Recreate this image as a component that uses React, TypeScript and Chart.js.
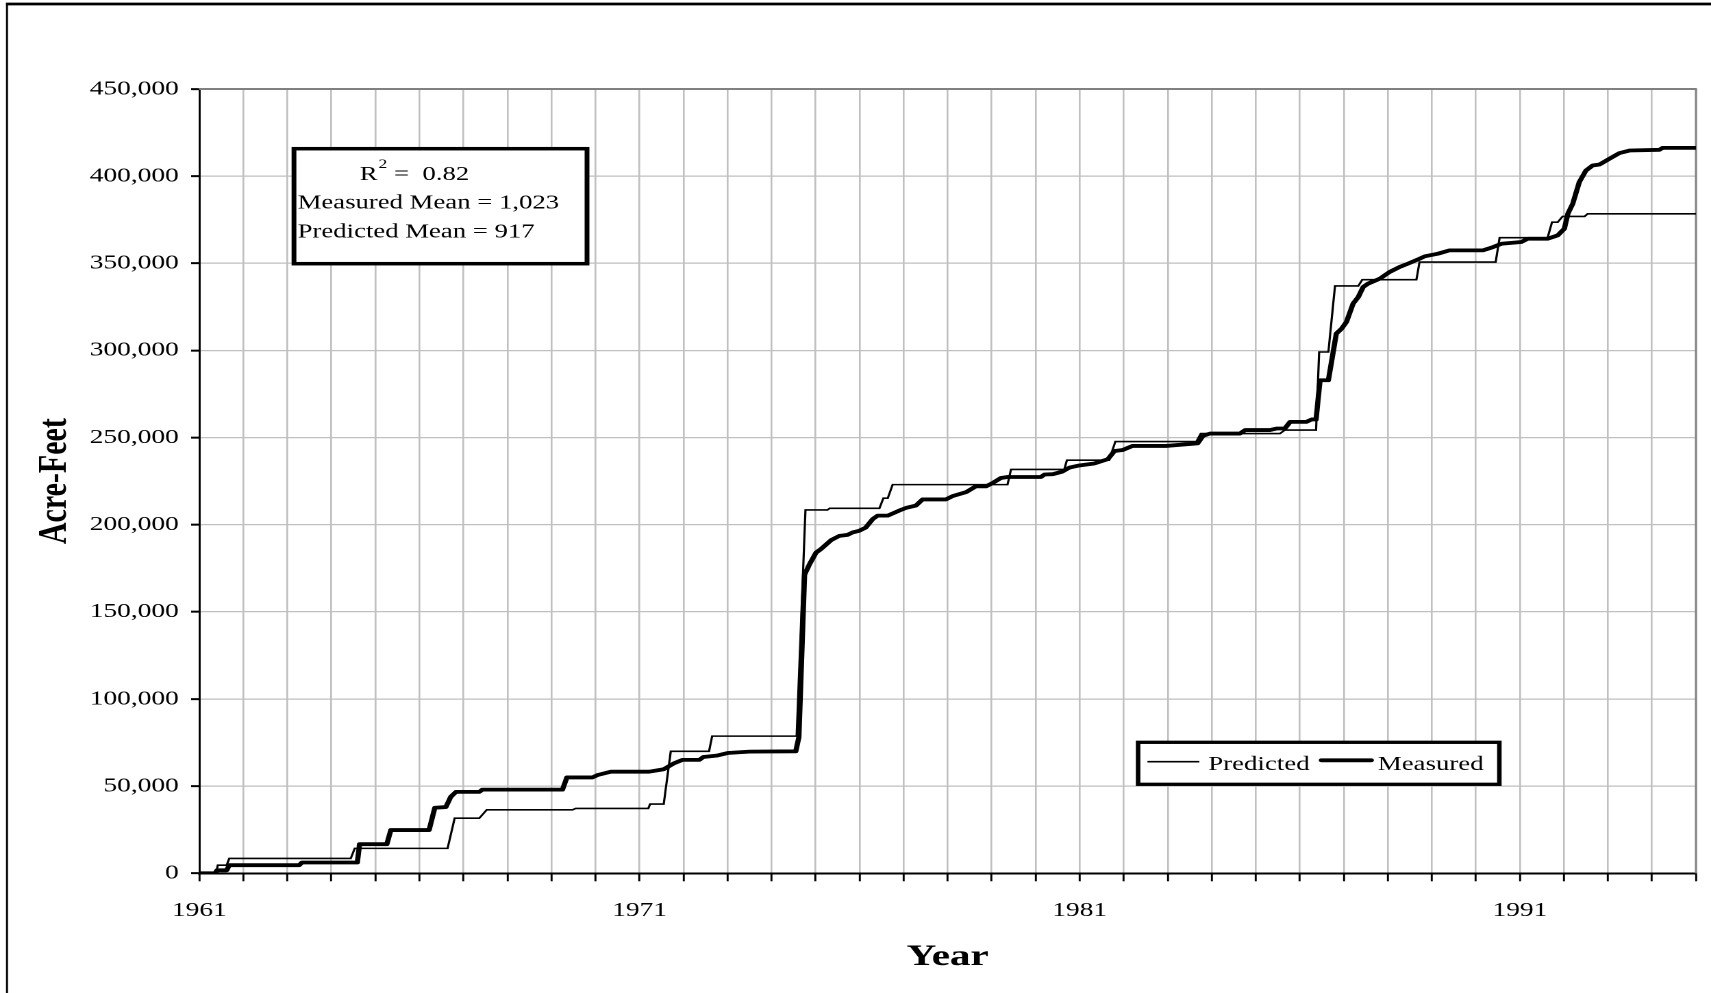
import React, { useEffect, useRef } from 'react';
import { Chart, registerables } from 'chart.js';

Chart.register(...registerables);

// ---------- data ----------
const seriesLabels = ['Predicted', 'Measured'];

const predictedYears = [
  1961.0, 1961.38, 1961.42, 1961.62, 1961.68, 1964.44, 1964.53, 1966.64, 1966.8, 1967.36,
  1967.53, 1969.48, 1969.55, 1971.2, 1971.24, 1971.55, 1971.71, 1972.58, 1972.65, 1974.57,
  1974.77, 1975.27, 1975.32, 1976.45, 1976.54, 1976.64, 1976.75, 1979.36, 1979.44, 1980.65,
  1980.71, 1981.67, 1981.81, 1983.65, 1983.75, 1985.55, 1985.66, 1986.37, 1986.44, 1986.65,
  1986.8, 1987.33, 1987.42, 1988.65, 1988.72, 1990.45, 1990.54, 1991.63, 1991.73, 1991.86,
  1991.97, 1992.47, 1992.54, 1995.0,
];
const predictedValues = [
  0, 0, 4650, 4650, 8500, 8500, 14300, 14300, 31600, 31600,
  36400, 36400, 37200, 37200, 39700, 39700, 70000, 70000, 78700, 78700,
  208500, 208500, 209400, 209400, 215200, 215200, 223000, 223000, 231700, 231700,
  237000, 237000, 247700, 247700, 252300, 252300, 254300, 254300, 299100, 299100,
  337000, 337000, 340600, 340600, 350700, 350700, 364700, 364700, 373600, 373600,
  376900, 376900, 378400, 378400,
];

const measuredYears = [
  1961.0, 1961.36, 1961.4, 1961.62, 1961.68, 1963.27, 1963.33, 1964.59, 1964.64, 1965.26,
  1965.35, 1966.22, 1966.35, 1966.6, 1966.71, 1966.83, 1967.36, 1967.43, 1969.25, 1969.35,
  1969.93, 1970.05, 1970.35, 1971.22, 1971.55, 1971.79, 1971.98, 1972.36, 1972.45, 1972.75,
  1973.0, 1973.5, 1974.55, 1974.62, 1974.75, 1974.86, 1975.01, 1975.12, 1975.35, 1975.54,
  1975.73, 1975.84, 1975.99, 1976.14, 1976.3, 1976.41, 1976.64, 1976.9, 1977.05, 1977.28,
  1977.43, 1977.96, 1978.11, 1978.42, 1978.64, 1978.87, 1979.02, 1979.21, 1979.36, 1980.12,
  1980.2, 1980.39, 1980.61, 1980.77, 1980.99, 1981.33, 1981.64, 1981.79, 1981.98, 1982.2,
  1982.96, 1983.68, 1983.8, 1983.96, 1984.64, 1984.76, 1985.32, 1985.47, 1985.66, 1985.78,
  1986.15, 1986.27, 1986.37, 1986.46, 1986.65, 1986.83, 1986.95, 1987.06, 1987.21, 1987.33,
  1987.44, 1987.55, 1987.82, 1988.04, 1988.27, 1988.46, 1988.72, 1988.84, 1989.14, 1989.4,
  1990.16, 1990.39, 1990.58, 1991.03, 1991.18, 1991.63, 1991.86, 1992.01, 1992.09, 1992.2,
  1992.35, 1992.5, 1992.65, 1992.81, 1993.03, 1993.26, 1993.49, 1994.17, 1994.24, 1995.0,
];
const measuredValues = [
  0, 0, 1700, 1700, 4650, 4650, 6200, 6200, 16700, 16700,
  24800, 24800, 37600, 38000, 43800, 46700, 46700, 48000, 48000, 55000,
  55000, 56400, 58300, 58300, 59700, 63200, 65100, 65100, 66700, 67500,
  69000, 69800, 70000, 78000, 171400, 177200, 184000, 186000, 191100, 193600,
  194200, 195600, 196500, 198400, 203300, 205200, 205200, 208100, 209600, 211000,
  214500, 214500, 216400, 218700, 222000, 222000, 223900, 226800, 227400, 227400,
  228800, 229000, 230500, 232800, 234000, 235100, 237600, 242300, 242900, 245200,
  245200, 246700, 251000, 252300, 252300, 254300, 254300, 255200, 255200, 259000,
  259000, 260400, 260400, 282900, 282900, 309700, 312500, 316300, 326800, 330700,
  336400, 338300, 341200, 345000, 347900, 349800, 352600, 354000, 355500, 357400,
  357400, 359300, 361200, 362200, 364100, 364100, 366000, 369800, 378400, 384100,
  396600, 403200, 406100, 406700, 409900, 413200, 414700, 415100, 416200, 416200,
];

const xLabelYears = [1961, 1971, 1981, 1991];
const rSquared = '0.82';
const measuredMean = '1,023';
const predictedMean = '917';

// ---------- layout (canvas is drawn narrow, then stretched horizontally) ----------
const CW = 1249;
const CH = 993;
const SX = 1711 / CW;
const FONT = '"Liberation Serif", "Times New Roman", serif';
const PLOT_TOP = 89;
const PLOT_BOTTOM = 873.3;
const PLOT_LEFT = 145.5;
const PLOT_RIGHT = 1238;

const decorPlugin = {
  id: 'decor',
  beforeDraw(chart: any) {
    const ctx = chart.ctx;
    ctx.save();
    ctx.fillStyle = '#ffffff';
    ctx.fillRect(0, 0, chart.width, chart.height);
    ctx.strokeStyle = '#000000';
    ctx.lineWidth = 1.46;
    ctx.beginPath();
    ctx.moveTo(5.1, 3);
    ctx.lineTo(5.1, chart.height + 10);
    ctx.stroke();
    ctx.lineWidth = 2.7;
    ctx.beginPath();
    ctx.moveTo(4.4, 4);
    ctx.lineTo(chart.width + 10, 4);
    ctx.stroke();
    ctx.restore();
  },
  beforeDatasetsDraw(chart: any) {
    const { ctx, chartArea: a } = chart;
    ctx.save();
    ctx.strokeStyle = '#808080';
    ctx.lineWidth = 2;
    ctx.beginPath();
    ctx.moveTo(a.left, a.top);
    ctx.lineTo(a.right + 0.7, a.top);
    ctx.stroke();
    ctx.lineWidth = 1.46;
    ctx.beginPath();
    ctx.moveTo(a.right, a.top);
    ctx.lineTo(a.right, a.bottom);
    ctx.stroke();
    ctx.restore();
  },
  afterDraw(chart: any) {
    const ctx = chart.ctx;
    ctx.save();
    // statistics box
    ctx.fillStyle = '#ffffff';
    ctx.fillRect(214.6, 148.7, 428.5 - 214.6, 263.7 - 148.7);
    ctx.strokeStyle = '#000000';
    ctx.lineWidth = 3.5;
    ctx.strokeRect(214.6, 148.7, 428.5 - 214.6, 263.7 - 148.7);
    ctx.fillStyle = '#000000';
    ctx.textBaseline = 'alphabetic';
    ctx.textAlign = 'left';
    ctx.font = `19.5px ${FONT}`;
    ctx.fillText('R', 262.6, 180);
    const rw = ctx.measureText('R').width;
    ctx.font = `13px ${FONT}`;
    ctx.fillText('2', 262.6 + rw + 0.7, 168);
    const sw = ctx.measureText('2').width;
    ctx.font = `19.5px ${FONT}`;
    ctx.fillText(` =  ${rSquared}`, 262.6 + rw + 0.7 + sw, 180);
    ctx.fillText(`Measured Mean = ${measuredMean}`, 217.3, 208.3);
    ctx.fillText(`Predicted Mean = ${predictedMean}`, 217.3, 237.3);

    // legend
    ctx.fillStyle = '#ffffff';
    ctx.fillRect(830.8, 742.3, 1094.5 - 830.8, 784.3 - 742.3);
    ctx.lineWidth = 3.3;
    ctx.strokeRect(830.8, 742.3, 1094.5 - 830.8, 784.3 - 742.3);
    const ds = chart.data.datasets;
    ctx.strokeStyle = '#000000';
    ctx.lineWidth = ds[0].borderWidth;
    ctx.beginPath();
    ctx.moveTo(837.6, 761.7);
    ctx.lineTo(875.5, 761.7);
    ctx.stroke();
    ctx.lineWidth = ds[1].borderWidth;
    ctx.lineCap = 'round';
    ctx.beginPath();
    ctx.moveTo(964.6, 760.3);
    ctx.lineTo(1001.0, 760.3);
    ctx.stroke();
    ctx.fillStyle = '#000000';
    ctx.font = `19.6px ${FONT}`;
    ctx.fillText(ds[0].label, 882.0, 770);
    ctx.fillText(ds[1].label, 1005.8, 770);
    ctx.restore();
  },
};

export default function App() {
  const ref = useRef<HTMLCanvasElement>(null);

  useEffect(() => {
    document.body.style.margin = '0';
    document.body.style.overflow = 'hidden';
    const predicted = predictedYears.map((x, i) => ({ x, y: predictedValues[i] }));
    const measured = measuredYears.map((x, i) => ({ x, y: measuredValues[i] }));

    const chart = new Chart(ref.current as HTMLCanvasElement, {
      type: 'line',
      data: {
        datasets: [
          {
            label: seriesLabels[0],
            data: predicted,
            borderColor: '#000000',
            backgroundColor: '#000000',
            borderWidth: 1.6,
            pointRadius: 0,
            tension: 0,
            fill: false,
          },
          {
            label: seriesLabels[1],
            data: measured,
            borderColor: '#000000',
            backgroundColor: '#000000',
            borderWidth: 3.8,
            borderJoinStyle: 'round',
            borderCapStyle: 'round',
            pointRadius: 0,
            tension: 0,
            fill: false,
          },
        ],
      },
      options: {
        responsive: false,
        animation: false,
        devicePixelRatio: 2,
        layout: { padding: { top: PLOT_TOP, right: CW - PLOT_RIGHT, bottom: 0, left: 0 } },
        plugins: {
          legend: { display: false },
          tooltip: { enabled: false },
          title: { display: false },
        },
        scales: {
          x: {
            type: 'linear',
            min: 1961,
            max: 1995,
            afterFit: (s: any) => {
              s.height = CH - PLOT_BOTTOM;
              s.paddingLeft = 0;
              s.paddingRight = 0;
            },
            ticks: {
              stepSize: 1,
              autoSkip: false,
              maxRotation: 0,
              minRotation: 0,
              padding: 17.5,
              color: '#000000',
              font: { family: FONT, size: 20 },
              callback: (v: any) => {
                const yr = Math.round(Number(v));
                return xLabelYears.includes(yr) ? String(yr) : '';
              },
            },
            grid: {
              color: '#c0c0c0',
              lineWidth: 1.3,
              tickColor: '#000000',
              tickLength: 8,
              tickWidth: 1.46,
              drawTicks: true,
            },
            border: { display: true, color: '#000000', width: 2 },
            title: {
              display: true,
              text: 'Year',
              color: '#000000',
              font: { family: FONT, size: 30, weight: 'bold' },
              padding: { top: 0, bottom: 18 },
            },
          },
          y: {
            type: 'linear',
            min: 0,
            max: 450000,
            afterFit: (s: any) => {
              s.width = PLOT_LEFT;
              s.paddingTop = 0;
              s.paddingBottom = 0;
            },
            ticks: {
              stepSize: 50000,
              padding: 9,
              color: '#000000',
              font: { family: FONT, size: 20 },
              callback: (v: any) => Number(v).toLocaleString('en-US'),
            },
            grid: {
              color: '#c0c0c0',
              lineWidth: 1.3,
              tickColor: '#000000',
              tickLength: 6,
              tickWidth: 2,
              drawTicks: true,
            },
            border: { display: true, color: '#000000', width: 1.46 },
            title: {
              display: true,
              text: 'Acre-Feet',
              color: '#000000',
              font: { family: FONT, size: 30, weight: 'bold' },
              padding: { top: 22, bottom: 0 },
            },
          },
        },
      },
      plugins: [decorPlugin],
    } as any);

    return () => chart.destroy();
  }, []);

  return (
    <div
      style={{
        width: CW,
        height: CH,
        transform: `scaleX(${SX})`,
        transformOrigin: '0 0',
        overflow: 'hidden',
      }}
    >
      <canvas ref={ref} width={CW} height={CH} style={{ width: CW, height: CH, display: 'block' }} />
    </div>
  );
}
